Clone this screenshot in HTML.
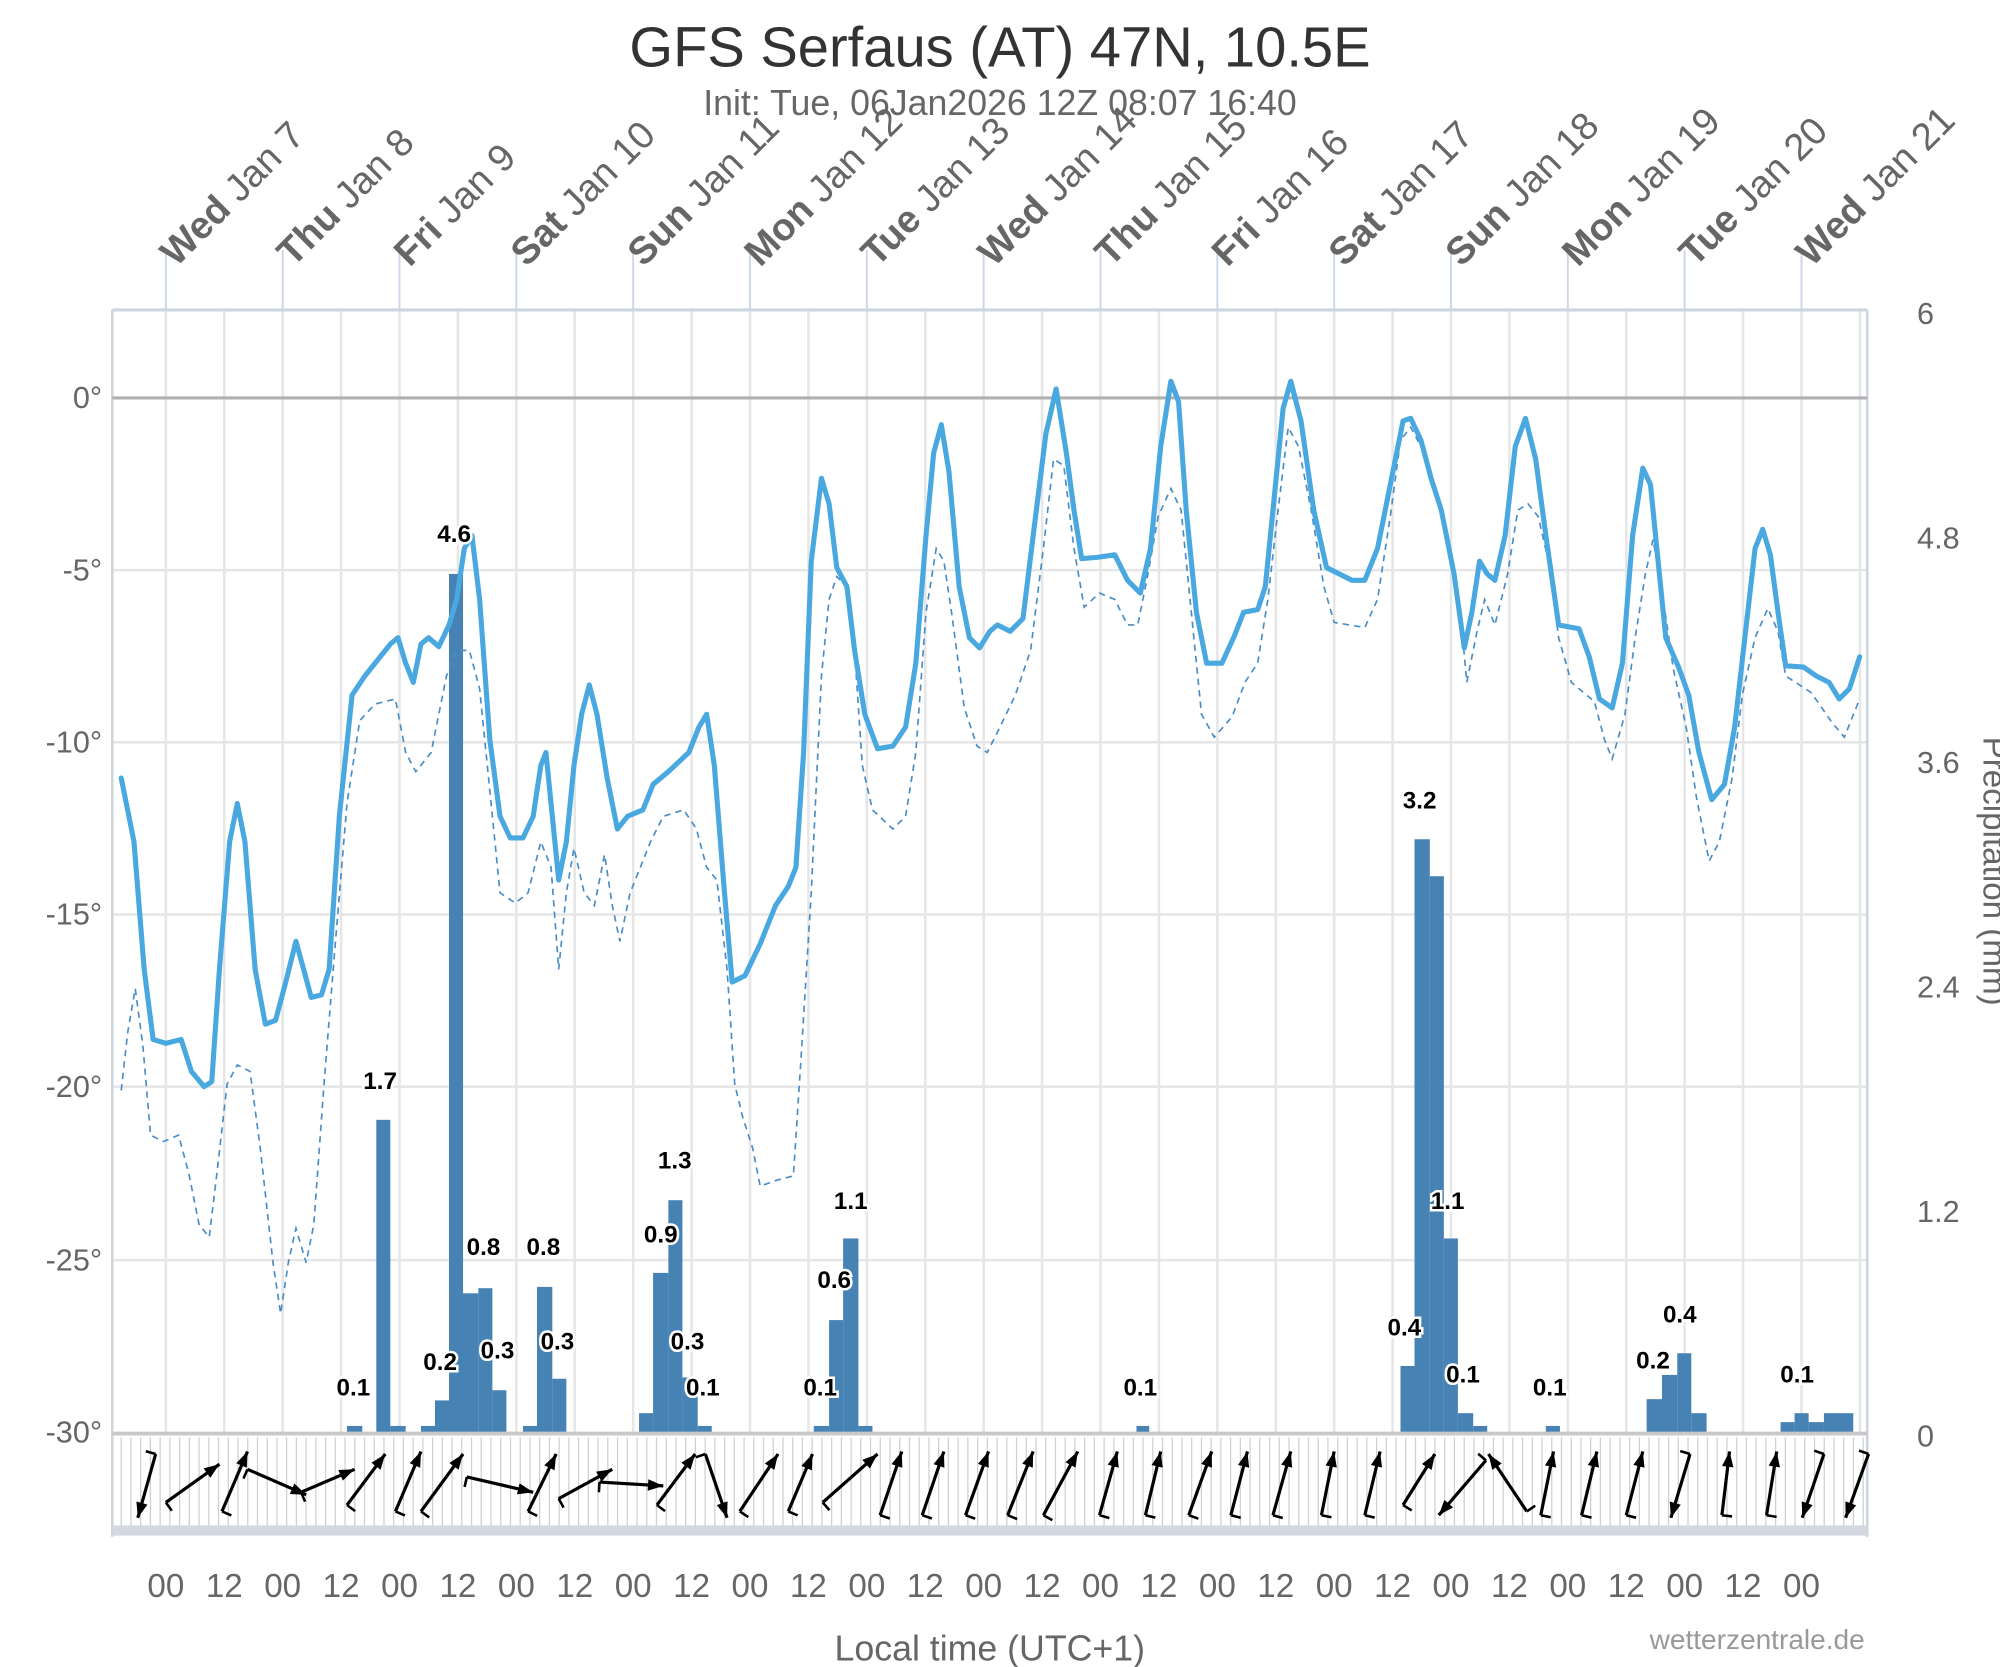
<!DOCTYPE html>
<html><head><meta charset="utf-8"><style>
html,body{margin:0;padding:0;background:#fff;}
svg{display:block;}
text{font-family:"Liberation Sans","DejaVu Sans",sans-serif;}
</style></head><body>
<svg id="root" width="2000" height="1667" viewBox="0 0 1568 1307" xmlns="http://www.w3.org/2000/svg">
<rect width="1568" height="1307" fill="#fff"/>
<text x="784" y="52" text-anchor="middle" font-size="44" fill="#333">GFS Serfaus (AT) 47N, 10.5E</text>
<text x="784" y="90" text-anchor="middle" font-size="28" fill="#666">Init: Tue, 06Jan2026 12Z 08:07 16:40</text>
<g id="grid" stroke="#e6e6e6" stroke-width="2">
<line x1="88" y1="447" x2="1464" y2="447"/><line x1="88" y1="582" x2="1464" y2="582"/><line x1="88" y1="717" x2="1464" y2="717"/><line x1="88" y1="852" x2="1464" y2="852"/><line x1="88" y1="988" x2="1464" y2="988"/>
</g>
<g stroke="#e6e6e6" stroke-width="2" id="vg"></g>
<g stroke="#ccd6eb" stroke-width="1.5" id="topticks"></g>
<line x1="88" y1="243" x2="1464" y2="243" stroke="#ccd6e0" stroke-width="2.5"/>
<line x1="88" y1="243" x2="88" y2="1205" stroke="#ccd6e0" stroke-width="2"/>
<line x1="1464" y1="243" x2="1464" y2="1205" stroke="#ccd6e0" stroke-width="2"/>
<line x1="88" y1="312" x2="1464" y2="312" stroke="#b0b0b0" stroke-width="2.5"/>
<g font-size="24" fill="#666" text-anchor="end">
<text x="80" y="320">0°</text><text x="80" y="455">-5°</text><text x="80" y="590">-10°</text><text x="80" y="725">-15°</text><text x="80" y="860">-20°</text><text x="80" y="996">-25°</text><text x="80" y="1131">-30°</text>
</g>
<g font-size="24" fill="#666">
<text x="1503" y="254">6</text><text x="1503" y="430">4.8</text><text x="1503" y="606">3.6</text><text x="1503" y="782">2.4</text><text x="1503" y="958">1.2</text><text x="1503" y="1134">0</text>
</g>
<text transform="translate(1555,683) rotate(90)" text-anchor="middle" font-size="26" fill="#666">Precipitation (mm)</text>
<g id="days" font-size="30" fill="#666"></g>
<g fill="#4682b4" id="bars">
<rect x="272" y="1118" width="12" height="5"/><rect x="295" y="878" width="11" height="245"/><rect x="306" y="1118" width="12" height="5"/>
<rect x="330" y="1118" width="11" height="5"/><rect x="341" y="1098" width="11" height="25"/><rect x="352" y="450" width="11" height="673"/><rect x="362" y="1014" width="13" height="109"/><rect x="375" y="1010" width="11" height="113"/><rect x="386" y="1090" width="11" height="33"/>
<rect x="410" y="1118" width="11" height="5"/><rect x="421" y="1009" width="12" height="114"/><rect x="433" y="1081" width="11" height="42"/>
<rect x="501" y="1108" width="11" height="15"/><rect x="512" y="998" width="12" height="125"/><rect x="524" y="941" width="11" height="182"/><rect x="535" y="1080" width="12" height="43"/><rect x="547" y="1118" width="11" height="5"/>
<rect x="638" y="1118" width="12" height="5"/><rect x="650" y="1035" width="11" height="88"/><rect x="661" y="971" width="12" height="152"/><rect x="673" y="1118" width="11" height="5"/>
<rect x="891" y="1118" width="10" height="5"/>
<rect x="1098" y="1071" width="11" height="52"/><rect x="1109" y="658" width="12" height="465"/><rect x="1121" y="687" width="11" height="436"/><rect x="1132" y="971" width="11" height="152"/><rect x="1143" y="1108" width="12" height="15"/><rect x="1155" y="1118" width="11" height="5"/>
<rect x="1212" y="1118" width="11" height="5"/>
<rect x="1291" y="1097" width="12" height="26"/><rect x="1303" y="1078" width="12" height="45"/><rect x="1315" y="1061" width="11" height="62"/><rect x="1326" y="1108" width="12" height="15"/>
<rect x="1396" y="1115" width="11" height="8"/><rect x="1407" y="1108" width="11" height="15"/><rect x="1418" y="1115" width="12" height="8"/><rect x="1430" y="1108" width="23" height="15"/>
</g>
<line x1="88" y1="1124" x2="1464" y2="1124" stroke="#c8c8c8" stroke-width="3"/>
<defs><clipPath id="above"><rect x="0" y="0" width="1568" height="312"/></clipPath></defs>
<polyline id="dew" fill="none" stroke="#4a8cc6" stroke-width="1.3" stroke-dasharray="5,4" points="95,855 100,810 106,775 112,820 118,890 128,895 140,890 148,920 156,960 164,970 170,920 178,850 186,835 196,840 204,900 214,990 220,1030 226,990 232,963 240,990 246,960 254,850 262,750 272,630 282,565 294,552 310,548 318,590 326,605 338,590 350,530 358,510 368,510 376,540 384,620 392,700 404,708 414,700 424,660 432,680 438,760 444,700 450,665 458,700 466,710 474,670 480,710 486,738 494,700 502,680 510,660 520,640 536,635 546,650 554,680 562,690 570,760 576,850 582,875 590,900 596,930 610,925 622,922 628,830 636,700 644,530 650,470 656,452 664,460 670,510 676,600 684,635 700,650 710,640 718,590 726,480 734,430 740,440 746,480 756,555 766,585 774,590 784,570 796,545 808,510 818,430 826,360 834,365 842,430 850,476 862,465 874,470 884,490 892,490 900,450 908,405 918,383 926,400 934,480 942,560 952,578 966,562 976,535 986,520 994,470 1002,400 1010,335 1018,350 1028,400 1038,460 1046,488 1070,492 1080,470 1090,405 1098,345 1106,335 1114,350 1124,380 1134,415 1144,470 1150,535 1158,495 1164,470 1172,490 1182,450 1190,400 1198,395 1206,405 1214,440 1222,500 1232,535 1250,550 1258,580 1264,595 1274,560 1282,500 1290,450 1296,423 1304,470 1312,525 1322,570 1330,625 1340,675 1348,660 1358,610 1366,545 1376,500 1386,477 1394,495 1400,530 1420,543 1436,566 1446,578 1458,548"/>
<polyline id="temp" fill="none" stroke="#4aa8e0" stroke-width="4" stroke-linejoin="round" stroke-linecap="round" points="95,610 105,660 113,760 120,815 130,818 142,815 150,840 160,852 166,848 172,760 180,660 186,630 192,660 200,760 208,803 216,800 224,770 232,738 238,760 244,782 252,780 258,760 266,640 276,545 286,530 298,515 306,505 312,500 318,520 324,535 330,505 336,500 344,507 352,490 358,470 364,430 370,420 376,470 384,580 392,640 400,657 410,657 418,640 424,600 428,590 432,630 438,690 444,660 450,600 456,560 462,537 468,560 476,610 484,650 492,640 504,635 512,615 524,605 540,590 548,570 554,560 560,600 568,700 574,770 584,765 596,740 608,710 618,695 624,680 630,590 636,440 644,375 650,395 656,445 664,460 670,510 678,560 688,587 700,585 710,570 718,520 726,420 732,355 738,333 744,370 752,460 760,500 768,508 776,495 782,490 792,495 802,485 810,420 820,340 828,305 836,355 842,400 848,438 860,437 874,435 884,455 894,465 902,430 910,350 918,299 924,315 930,400 938,480 946,520 958,520 968,498 975,480 986,478 992,460 998,400 1006,320 1012,299 1020,330 1030,400 1040,445 1050,450 1060,455 1070,455 1080,430 1090,380 1100,330 1106,328 1114,345 1122,375 1130,400 1140,450 1148,508 1154,480 1160,440 1166,450 1172,455 1180,420 1188,350 1196,328 1204,360 1212,420 1222,490 1238,493 1246,515 1254,548 1264,555 1272,520 1280,420 1288,367 1294,380 1300,440 1306,500 1316,523 1324,545 1332,590 1342,627 1352,615 1360,570 1368,500 1376,430 1382,415 1388,435 1394,480 1400,522 1414,523 1424,530 1434,535 1442,548 1450,540 1458,515"/>
<use id="tempred" href="#temp" clip-path="url(#above)" style="stroke:#e8332e"/>
<g font-size="19" font-weight="bold" fill="#000" stroke="#fff" stroke-width="4" paint-order="stroke" text-anchor="middle">
<text x="277" y="1094">0.1</text><text x="298" y="854">1.7</text><text x="356" y="425">4.6</text><text x="345" y="1074">0.2</text><text x="379" y="984">0.8</text><text x="390" y="1065">0.3</text><text x="426" y="984">0.8</text><text x="437" y="1058">0.3</text>
<text x="518" y="974">0.9</text><text x="529" y="916">1.3</text><text x="539" y="1058">0.3</text><text x="551" y="1094">0.1</text>
<text x="643" y="1094">0.1</text><text x="654" y="1010">0.6</text><text x="667" y="948">1.1</text><text x="894" y="1094">0.1</text>
<text x="1113" y="634">3.2</text><text x="1101" y="1047">0.4</text><text x="1135" y="948">1.1</text><text x="1147" y="1084">0.1</text><text x="1215" y="1094">0.1</text>
<text x="1296" y="1073">0.2</text><text x="1317" y="1037">0.4</text><text x="1409" y="1084">0.1</text>
</g>
<g id="windgrid" stroke="#d0d0d0" stroke-width="1"></g>
<rect x="88" y="1196" width="1376" height="8" fill="#d4d8e0"/>
<g id="wind" stroke="#000" stroke-width="2.5" fill="#000"></g>
<g id="hours" font-size="26" fill="#666" text-anchor="middle"></g>
<text x="776" y="1302" text-anchor="middle" font-size="28" fill="#666">Local time (UTC+1)</text>
<text x="1462" y="1293" text-anchor="end" font-size="22" fill="#999">wetterzentrale.de</text>
<script>
var NS="http://www.w3.org/2000/svg";
function el(t,a,p,txt){var e=document.createElementNS(NS,t);for(var k in a)e.setAttribute(k,a[k]);if(txt!=null)e.textContent=txt;document.getElementById(p).appendChild(e);return e;}
var x0=130,dd=91.6;
for(var i=-1;i<30;i++){var x=x0+i*dd/2;if(x>88&&x<1464)el('line',{x1:x,y1:243,x2:x,y2:1124},'vg');}
var days=[["Wed","Jan 7"],["Thu","Jan 8"],["Fri","Jan 9"],["Sat","Jan 10"],["Sun","Jan 11"],["Mon","Jan 12"],["Tue","Jan 13"],["Wed","Jan 14"],["Thu","Jan 15"],["Fri","Jan 16"],["Sat","Jan 17"],["Sun","Jan 18"],["Mon","Jan 19"],["Tue","Jan 20"],["Wed","Jan 21"]];
for(var i=0;i<15;i++){var x=x0+i*dd;el('line',{x1:x,y1:196,x2:x,y2:243},'topticks');
var t=el('text',{transform:'translate('+(x+8)+',210) rotate(-45)'},'days');
var a=document.createElementNS(NS,'tspan');a.setAttribute('font-weight','bold');a.textContent=days[i][0]+' ';t.appendChild(a);
var b=document.createElementNS(NS,'tspan');b.textContent=days[i][1];t.appendChild(b);
el('text',{x:x,y:1252},'hours','00');if(i<14)el('text',{x:x+dd/2,y:1252},'hours','12');}
for(var x=95;x<1464;x+=7.63)el('line',{x1:x,y1:1127,x2:x,y2:1196},'windgrid');
var w=[[122,1140,108,1190],[130,1178,172,1148],[174,1185,194,1138],[194,1152,240,1172],[236,1170,278,1152],[272,1180,302,1140],[310,1185,330,1138],[330,1185,363,1140],[366,1158,418,1170],[414,1185,436,1140],[438,1175,480,1152],[470,1162,520,1165],[515,1180,545,1140],[553,1140,570,1190],[580,1185,610,1140],[618,1185,637,1140],[645,1178,688,1140],[690,1188,707,1138],[723,1188,740,1138],[757,1188,775,1138],[790,1188,810,1138],[818,1188,845,1138],[862,1188,876,1138],[898,1188,910,1138],[932,1188,950,1138],[965,1188,978,1138],[998,1188,1012,1138],[1036,1188,1046,1138],[1070,1188,1082,1138],[1100,1180,1125,1140],[1165,1145,1128,1188],[1197,1185,1167,1140],[1208,1188,1218,1138],[1240,1188,1252,1138],[1275,1188,1288,1138],[1325,1140,1310,1190],[1350,1188,1356,1138],[1385,1188,1393,1138],[1430,1140,1413,1190],[1465,1140,1447,1190]];
w.forEach(function(q){el('line',{x1:q[0],y1:q[1],x2:q[2],y2:q[3]},'wind');
var dx=q[2]-q[0],dy=q[3]-q[1],L=Math.sqrt(dx*dx+dy*dy),ux=dx/L,uy=dy/L,px=-uy,py=ux;
var h=12,s=4.5;var pts=[q[2],q[3],q[2]-ux*h+px*s,q[3]-uy*h+py*s,q[2]-ux*h-px*s,q[3]-uy*h-py*s].join(',');
el('polygon',{points:pts,stroke:'none'},'wind');
el('line',{x1:q[0],y1:q[1],x2:q[0]+px*8,y2:q[1]+py*8,'stroke-width':2},'wind');});
</script>
<script>
try{
(function(){
function sm(str){var v=str.trim().split(/[\s,]+/).map(Number),P=[];for(var i=0;i+1<v.length;i+=2)P.push([v[i],v[i+1]]);
var r="M"+P[0][0]+","+P[0][1];for(var i=0;i<P.length-1;i++){var A=P[i>0?i-1:i],B=P[i],C=P[i+1],D=P[i+2<P.length?i+2:i+1];
r+=" C"+(B[0]+(C[0]-A[0])/6).toFixed(1)+","+(B[1]+(C[1]-A[1])/6).toFixed(1)+" "+(C[0]-(D[0]-B[0])/6).toFixed(1)+","+(C[1]-(D[1]-B[1])/6).toFixed(1)+" "+C[0]+","+C[1];}return r;}
var ids=['dew','temp'];
for(var k=0;k<ids.length;k++){var pl=document.getElementById(ids[k]);var dstr=sm(pl.getAttribute('points'));
var path=document.createElementNS("http://www.w3.org/2000/svg","path");
var at=pl.attributes;for(var j=0;j<at.length;j++){if(at[j].name!='points')path.setAttribute(at[j].name,at[j].value);}
path.setAttribute('d',dstr);pl.parentNode.replaceChild(path,pl);}
})();
}catch(err){}
</script>
</svg>
</body></html>
